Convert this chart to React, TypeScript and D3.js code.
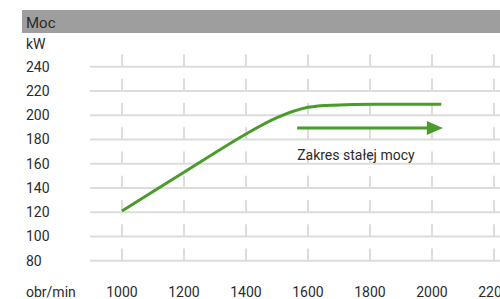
import * as d3 from "d3";

const yTicks = [80, 100, 120, 140, 160, 180, 200, 220, 240];
const xTicks = [1000, 1200, 1400, 1600, 1800, 2000, 2200];

const rpm = [1000, 1200, 1400, 1500, 1600, 1700, 1850, 2030];
const power = [121, 153, 184.5, 198, 206.5, 208.5, 209, 209];

const rangeStart = 1565;
const rangeEnd = 2035;
const rangeLevel = 189.5;

const title = "Moc";
const yUnit = "kW";
const xUnit = "obr/min";
const rangeLabel = "Zakres stałej mocy";

export default function App() {
  const width = 500;
  const height = 299;
  const x = d3.scaleLinear().domain([1000, 2200]).range([122, 494]);
  const y = d3.scaleLinear().domain([80, 240]).range([260.7, 66.7]);
  const step = y(80) - y(100);

  const line = d3
    .line<number>()
    .x((_, i) => x(rpm[i]))
    .y((d) => y(d))
    .curve(d3.curveCatmullRom.alpha(0.5));

  const green = "#4b9a2c";
  const font = "Roboto, sans-serif";

  return (
    <svg
      width={width}
      height={height}
      style={{ position: "absolute", left: 0, top: 0 }}
      fontFamily={font}
    >
      <rect x={22} y={10} width={478} height={23} fill="#9e9e9e" />
      <text x={26} y={28} fontSize={15} fill="#2b2b2b">
        {title}
      </text>
      <text x={26} y={49} fontSize={14} fill="#2b2b2b">
        {yUnit}
      </text>

      {yTicks.map((t) => (
        <g key={t}>
          <line x1={90} x2={500} y1={y(t)} y2={y(t)} stroke="#dcdcdc" strokeWidth={2} />
          {xTicks.map((v) => (
            <line
              key={v}
              x1={x(v)}
              x2={x(v)}
              y1={y(t) - step / 2}
              y2={y(t)}
              stroke="#dcdcdc"
              strokeWidth={2}
            />
          ))}
          <text x={26} y={y(t) + 5} fontSize={14} fill="#2b2b2b">
            {t}
          </text>
        </g>
      ))}

      <text x={26} y={297} fontSize={14} fill="#2b2b2b">
        {xUnit}
      </text>
      {xTicks.map((v) => (
        <text key={v} x={x(v)} y={297} fontSize={14} fill="#2b2b2b" textAnchor="middle">
          {v}
        </text>
      ))}

      <path d={line(power)!} fill="none" stroke={green} strokeWidth={3} />

      <line
        x1={x(rangeStart)}
        x2={x(rangeEnd) - 14}
        y1={y(rangeLevel)}
        y2={y(rangeLevel)}
        stroke={green}
        strokeWidth={3}
      />
      <path
        d={`M${x(rangeEnd) - 16},${y(rangeLevel) - 7}L${x(rangeEnd)},${y(rangeLevel)}L${x(rangeEnd) - 16},${y(rangeLevel) + 7}Z`}
        fill={green}
      />
      <text x={x(rangeStart)} y={160} fontSize={14} fill="#2b2b2b">
        {rangeLabel}
      </text>
    </svg>
  );
}
